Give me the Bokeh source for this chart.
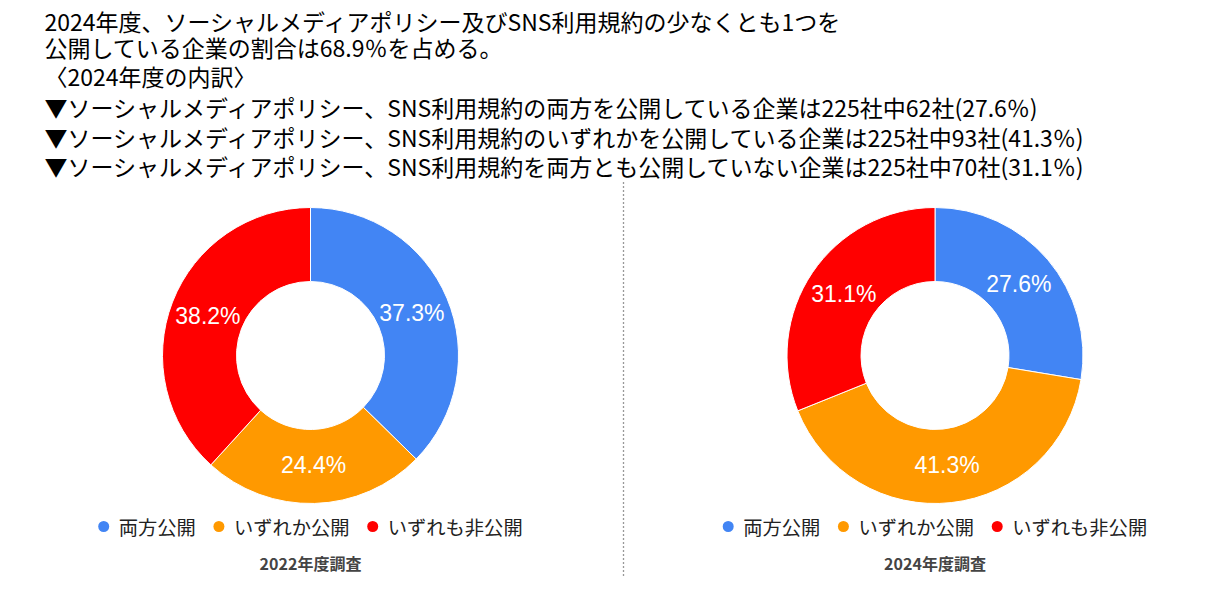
import math
from bokeh.plotting import figure
from bokeh.models import Range1d, Label, ColumnDataSource
from bokeh.core.properties import value
from bokeh.embed import file_html
from bokeh.resources import INLINE

# ---------------- data ----------------
categories = ["両方公開", "いずれか公開", "いずれも非公開"]
colors = ["#4285F4", "#FF9900", "#FF0000"]
share_2022 = [37.3, 24.4, 38.2]
share_2024 = [27.6, 41.3, 31.1]
survey_titles = ["2022年度調査", "2024年度調査"]
headline = [
    "2024年度、ソーシャルメディアポリシー及びSNS利用規約の少なくとも1つを",
    "公開している企業の割合は68.9％を占める。",
    "〈2024年度の内訳〉",
    "▼ソーシャルメディアポリシー、SNS利用規約の両方を公開している企業は225社中62社(27.6％)",
    "▼ソーシャルメディアポリシー、SNS利用規約のいずれかを公開している企業は225社中93社(41.3％)",
    "▼ソーシャルメディアポリシー、SNS利用規約を両方とも公開していない企業は225社中70社(31.1％)",
]

# ---------------- layout ----------------
W, H = 1201, 576
p = figure(width=W, height=H, x_range=Range1d(0, W), y_range=Range1d(0, H),
           output_backend="svg", toolbar_location=None, x_axis_type=None, y_axis_type=None,
           min_border=0)
p.grid.visible = False
p.outline_line_color = None
p.background_fill_color = "white"
p.border_fill_color = "white"


def Y(ry):
    return H - ry


CJK = "Noto Sans CJK JP"

# headline text
line_y = [20, 46, 75, 106, 136, 165]
for txt, ly in zip(headline, line_y):
    p.add_layout(Label(x=44, y=Y(ly), text=txt, text_font=CJK, text_font_size="23px",
                       text_color="#000000", text_baseline="middle", text_align="left"))

# dotted divider
p.segment(x0=[623], y0=[Y(182)], x1=[623], y1=[Y(576)], line_color="#333333",
          line_width=1.3, line_dash="1 3")

OUTER, INNER, LABEL_R = 148, 74, 110


def donut(cx, cy, shares, title):
    total = sum(shares)
    starts, ends, lx, ly, labels = [], [], [], [], []
    cum = 0.0
    for v in shares:
        f0 = cum / total
        cum += v
        f1 = cum / total
        starts.append(math.pi / 2 - 2 * math.pi * f0)
        ends.append(math.pi / 2 - 2 * math.pi * f1)
        mid = math.pi / 2 - 2 * math.pi * (f0 + f1) / 2
        lx.append(cx + LABEL_R * math.cos(mid))
        ly.append(cy + LABEL_R * math.sin(mid))
        labels.append(f"{v:.1f}%")
    src = ColumnDataSource(dict(start=starts, end=ends, color=colors, lx=lx, ly=ly,
                                label=labels, x=[cx] * len(shares), y=[cy] * len(shares)))
    p.annular_wedge(x="x", y="y", inner_radius=INNER, outer_radius=OUTER,
                    start_angle="start", end_angle="end", direction="clock",
                    fill_color="color", line_color="white", line_width=1, source=src)
    p.text(x="lx", y="ly", text="label", source=src, text_color="white",
           text_font=value("Liberation Sans"), text_font_size="23px",
           text_align="center", text_baseline="middle")

    # legend
    char_w, dot_gap, item_gap, dot_r = 19.3, 15, 23, 5.5
    widths = [len(c) * char_w for c in categories]
    total_w = dot_r + dot_gap + sum(widths) + (len(categories) - 1) * (item_gap + dot_gap)
    x = cx - total_w / 2 + dot_r
    dx, tx = [], []
    for w in widths:
        dx.append(x)
        tx.append(x + dot_gap)
        x = x + dot_gap + w + item_gap
    lsrc = ColumnDataSource(dict(dx=dx, tx=tx, y=[Y(526)] * len(categories),
                                 color=colors, name=categories))
    p.scatter(x="dx", y="y", size=2 * dot_r, fill_color="color", line_color=None,
              source=lsrc)
    p.text(x="tx", y="y", text="name", source=lsrc, text_color="#222222",
           text_font=value(CJK), text_font_size="19.3px", text_align="left",
           text_baseline="middle")

    p.add_layout(Label(x=cx, y=Y(562), text=title, text_font=CJK, text_font_size="16px",
                       text_font_style="bold", text_color="#444444", text_align="center",
                       text_baseline="middle"))


donut(310, Y(355), share_2022, survey_titles[0])
donut(934.5, Y(355), share_2024, survey_titles[1])

open("out.html", "w").write(file_html(p, INLINE))
